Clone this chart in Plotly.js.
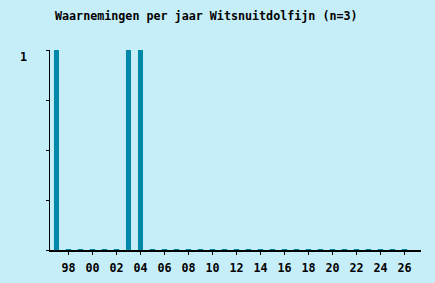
<!DOCTYPE html>
<html><head><meta charset="utf-8">
<script src="https://cdn.plot.ly/plotly-3.0.1.min.js"></script>
<style>html,body{margin:0;padding:0;background:#c6eef8;}</style>
</head><body>
<div id="chart" style="width:435px;height:283px;"></div>
<script>
var years = [1997,1998,1999,2000,2001,2002,2003,2004,2005,2006,2007,2008,2009,2010,2011,2012,2013,2014,2015,2016,2017,2018,2019,2020,2021,2022,2023,2024,2025,2026];
var counts = [1,0,0,0,0,0,1,1,0,0,0,0,0,0,0,0,0,0,0,0,0,0,0,0,0,0,0,0,0,0];
var tickYears = [1998,2000,2002,2004,2006,2008,2010,2012,2014,2016,2018,2020,2022,2024,2026];
var tickLabels = ["98","00","02","04","06","08","10","12","14","16","18","20","22","24","26"];
var yTickVals = [0,0.25,0.5,0.75,1];
var yTickText = ["","","","","1"];

var zeroYears = years.filter(function(y,i){return counts[i]===0;});
var zeroVals = zeroYears.map(function(){return 0;});
var barColor = '#0088a8';
var font = {family:'"DejaVu Sans Mono", monospace', size:11.7, color:'#000'};

Plotly.newPlot('chart', [
  {type:'bar', x:years, y:counts, width:0.42, marker:{color:barColor}, hoverinfo:'x+y'},
  {type:'scatter', mode:'markers', x:zeroYears, y:zeroVals, cliponaxis:false,
   marker:{symbol:'line-ew', size:4, color:barColor, line:{width:2, color:barColor}}, hoverinfo:'skip'}
], {
  width:435, height:283,
  paper_bgcolor:'#c6eef8', plot_bgcolor:'#c6eef8',
  margin:{l:50, r:14, t:50, b:33},
  showlegend:false,
  font:font,
  title:{text:'<b>Waarnemingen per jaar Witsnuitdolfijn (n=3)</b>', font:font,
         xref:'container', x:55/435, xanchor:'left', yref:'container', y:1-16/283, yanchor:'middle'},
  xaxis:{range:[1996.46,2027.375], tickvals:tickYears, ticktext:tickLabels.map(function(t){return '<b>'+t+'</b>';}),
         ticks:'outside', ticklen:3, tickcolor:'#000', tickwidth:1,
         showline:true, linecolor:'#000', linewidth:1.5, showgrid:false, zeroline:false,
         tickfont:font, ticklabelstandoff:3},
  yaxis:{range:[0,1], tickvals:yTickVals, ticktext:yTickText.map(function(t){return t?'<b>'+t+'</b>':'';}),
         ticks:'outside', ticklen:3, tickcolor:'#000', tickwidth:1,
         showline:true, linecolor:'#000', linewidth:1.5, showgrid:false, zeroline:false,
         tickfont:font, ticklabelstandoff:16, ticklabelshift:7}
}, {displayModeBar:false, staticPlot:true});
</script>
</body></html>
